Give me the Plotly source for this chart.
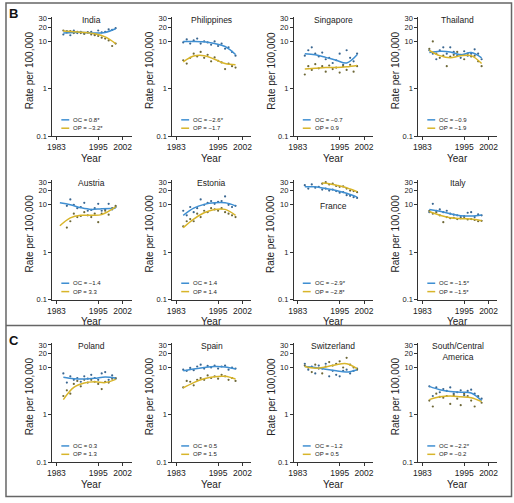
import plotly.graph_objects as go

W, H = 514, 503

# ---------------- data ----------------
countries = ["India", "Philippines", "Singapore", "Thailand",
             "Austria", "Estonia", "France", "Italy",
             "Poland", "Spain", "Switzerland", "South/Central America"]
titles = ["India", "Philippines", "Singapore", "Thailand",
          "Austria", "Estonia", "France", "Italy",
          "Poland", "Spain", "Switzerland", "South/Central<br>America"]
oc_labels = ["OC = 0.8*", "OC = \u22122.6*", "OC = \u22120.7", "OC = \u22120.9",
             "OC = \u22121.4", "OC = 1.4", "OC = \u22122.9*", "OC = \u22121.5*",
             "OC = 0.3", "OC = 0.5", "OC = \u22121.2", "OC = \u22122.2*"]
op_labels = ["OP = \u22123.2*", "OP = \u22121.7", "OP = 0.9", "OP = \u22121.9",
             "OP = 3.3", "OP = 1.4", "OP = \u22122.8*", "OP = \u22121.5*",
             "OP = 1.3", "OP = 1.5", "OP = 0.5", "OP = \u22120.2"]

yrs16 = list(range(1985, 2001))
yrs_austria = list(range(1986, 2001))
yrs_france_op = list(range(1990, 2001))

# observed rates (points)
oc_points = {
    "India":       [14, 16.5, 13.5, 17, 15, 16, 14.5, 15.5, 16, 14, 17, 15.5, 16, 18, 17.5, 19],
    "Philippines": [9.5, 11, 9, 10.5, 11.5, 9, 10, 9.5, 8.5, 10, 8, 9, 7, 7.5, 6, 5],
    "Singapore":   [5.0, 6.5, 7.5, 5.5, 4.8, 5.8, 4.2, 4.5, 3.5, 4.0, 5.5, 3.2, 6.5, 4.5, 3.8, 5.5],
    "Thailand":    [6.5, 5.5, 4.2, 6.5, 7.5, 5.5, 7.5, 6.0, 5.0, 4.5, 6.2, 5.0, 5.5, 6.8, 5.5, 4.2],
    "Austria":     [9.5, 13, 10, 8.5, 9, 11, 7.5, 7.8, 8.5, 10.5, 7.5, 8, 10.5, 8, 9.0],
    "Estonia":     [7.5, 6, 9, 7, 8.5, 13, 10, 11, 12, 10.5, 11.5, 12, 15, 10, 9, 9.5],
    "France":      [26, 22, 27, 23, 24, 21, 22, 20, 21, 19.5, 18, 18.5, 16, 15.5, 14.5, 14],
    "Italy":       [7, 10.5, 7.5, 8, 7, 7.5, 6.5, 6.2, 6.0, 5.5, 5.8, 6.8, 7.0, 5.5, 6.3, 6.0],
    "Poland":      [7.5, 4.8, 6.5, 5.5, 6.0, 5.0, 6.5, 5.8, 7.0, 6.0, 5.5, 7.5, 8.0, 5.5, 6.8, 5.8],
    "Spain":       [9.0, 8.5, 9.8, 8.8, 10.5, 11.5, 9.5, 10.8, 10, 11, 9.5, 10.5, 11, 9, 10, 9.5],
    "Switzerland": [12, 9, 10.5, 7.5, 11, 9.5, 12, 6.5, 8.5, 7, 6.5, 8.5, 9, 7.5, 8.5, 9.5],
    "South/Central America": [4.0, 2.5, 3.8, 3.0, 3.5, 3.2, 3.8, 2.8, 3.0, 3.3, 2.6, 3.2, 3.4, 2.8, 2.5, 2.2],
}
op_points = {
    "India":       [17, 15.5, 16.5, 15, 16, 15, 14.5, 15.5, 14, 13.5, 13, 12, 11.5, 10.5, 8, 9],
    "Philippines": [4, 3.4, 4.5, 5.5, 4.8, 6, 4.5, 5.2, 3.8, 4.6, 3.9, 3.6, 2.6, 3.4, 3.0, 2.8],
    "Singapore":   [2.0, 3.0, 2.5, 3.3, 2.7, 3.0, 2.3, 3.1, 2.6, 2.8, 2.2, 3.0, 2.5, 3.2, 2.3, 3.0],
    "Thailand":    [7.0, 10, 5.5, 4.5, 5.0, 3.0, 4.8, 5.2, 6.0, 5.2, 4.2, 5.5, 4.8, 5.0, 3.8, 3.0],
    "Austria":     [3.3, 4.5, 6.5, 5.5, 5.8, 7, 6, 5.5, 6.5, 4.3, 6.5, 7.5, 6.2, 8.5, 9.5],
    "Estonia":     [3.5, 4.5, 5, 4.5, 6.5, 5.5, 7.5, 7, 8.5, 8, 7.5, 8.5, 7, 6.5, 6, 5.5],
    "France":      [28, 30, 27, 28, 25, 24, 24.5, 22, 20, 19.5, 18.5],
    "Italy":       [7.5, 6.5, 7, 6, 4.3, 5.5, 5.2, 5.3, 5.0, 5.2, 5.5, 4.9, 5.0, 4.8, 4.5, 4.6],
    "Poland":      [2.5, 3.3, 2.8, 4.5, 5.2, 4.0, 5.5, 4.8, 5.5, 5.0, 4.5, 3.5, 5.0, 4.8, 5.8, 6.0],
    "Spain":       [3.8, 5.2, 5.0, 4.2, 5.5, 6.0, 5.5, 6.8, 6.0, 6.5, 5.8, 7.0, 6.5, 5.5, 6.0, 5.2],
    "Switzerland": [11, 10, 8, 11.5, 9.5, 7.5, 10.5, 13, 11, 12, 13.5, 10, 16, 11.5, 10, 9],
    "South/Central America": [2.0, 1.5, 2.8, 2.4, 2.3, 2.5, 1.7, 2.6, 2.2, 1.6, 2.8, 2.5, 2.0, 1.5, 2.4, 1.8],
}
point_years = {c: yrs16 for c in countries}
point_years["Austria"] = yrs_austria
op_point_years = dict(point_years)
op_point_years["France"] = yrs_france_op

# fitted trends (knots)
fit_years = [1985, 1988, 1991, 1994, 1997, 2000]
oc_fit = {
    "India":       [15, 15.5, 15.5, 15, 15.5, 18.5],
    "Philippines": [10, 10, 9.8, 9, 7.8, 5.3],
    "Singapore":   [5.5, 5.2, 4.6, 4.0, 3.5, 5.2],
    "Thailand":    [5.8, 6.2, 6.0, 5.2, 5.8, 4.5],
    "Austria":     [11, 10, 8.7, 8, 8.3, 8.5],
    "Estonia":     [6, 8.5, 10.2, 11, 11, 9.5],
    "France":      [24, 24, 22, 20, 17.5, 14.5],
    "Italy":       [8, 7.3, 6.5, 5.9, 5.8, 6.1],
    "Poland":      [6.2, 5.8, 5.7, 5.9, 6.3, 6.0],
    "Spain":       [8.5, 9.3, 10, 10.5, 10.3, 9.3],
    "Switzerland": [10.5, 10, 9.2, 8.5, 8, 9],
    "South/Central America": [4.0, 3.4, 3.1, 3.0, 2.9, 2.0],
}
op_fit = {
    "India":       [16.5, 16, 15.5, 14.5, 12.5, 9],
    "Philippines": [3.7, 4.9, 5.0, 4.2, 3.4, 3.2],
    "Singapore":   [2.6, 2.7, 2.8, 2.8, 2.9, 3.1],
    "Thailand":    [6.5, 5, 4.5, 5, 5, 3.4],
    "Austria":     [3.6, 5.3, 6, 6, 6.2, 9],
    "Estonia":     [3.3, 5, 6.8, 8, 8, 6],
    "France":      [29, 28, 26, 24, 21.5, 19],
    "Italy":       [7.2, 6, 5.3, 5.1, 5.0, 4.6],
    "Poland":      [2.1, 3.8, 4.7, 5.0, 4.8, 5.6],
    "Spain":       [3.7, 4.8, 5.8, 6.4, 6.5, 5.7],
    "Switzerland": [10.5, 9.7, 10.3, 11.5, 12, 9.5],
    "South/Central America": [2.1, 2.4, 2.5, 2.4, 2.3, 1.9],
}
fit_years_c = {c: fit_years for c in countries}
fit_years_c["Austria"] = [1984, 1987, 1990, 1993, 1996, 2000]
op_fit_years_c = dict(fit_years_c)
op_fit_years_c["France"] = [1990, 1992, 1994, 1996, 1998, 2000]

x_ticks = [1983, 1995, 2002]
y_ticks = [0.1, 1, 10, 20, 30]
y_ticklabels = ["0.1", "1", "10", "20", "30"]

# ---------------- style ----------------
FONT = "Arial, Liberation Sans, sans-serif"
BLUE = "#3f8fd2"
YELLOW = "#d8b52a"
BLUE_PT = "#3a6690"
YELLOW_PT = "#6e6838"
AX = "#333333"
TXT = "#222222"

col_left = [48, 169.3, 292.3, 418.3]
row_bottom = [136, 301.7, 466.7]
PW, PH = 80, 121
title_y = [0.975] * 12
title_y[6] = 0.785
title_y[11] = 0.93

fig = go.Figure()
layout = dict(
    width=W, height=H, margin=dict(l=0, r=0, t=0, b=0),
    paper_bgcolor="white", plot_bgcolor="white", showlegend=False,
    font=dict(family=FONT, color=TXT, size=9),
)
annotations = []
shapes = []

for i, c in enumerate(countries):
    n = i + 1
    r, k = divmod(i, 4)
    sfx = "" if n == 1 else str(n)
    xa, ya = "x" + sfx, "y" + sfx
    L = col_left[k]
    B = row_bottom[r]
    layout["xaxis" + sfx] = dict(
        domain=[L / W, (L + PW) / W], range=[1981.87, 2004.55],
        anchor=ya, showline=True, linecolor=AX, linewidth=1,
        ticks="outside", ticklen=3, tickcolor=AX, tickwidth=1,
        tickvals=x_ticks, showgrid=False, zeroline=False,
        tickfont=dict(size=8.5, family=FONT, color=TXT),
    )
    layout["yaxis" + sfx] = dict(
        domain=[1 - B / H, 1 - (B - PH) / H], type="log", range=[-1, 1.52],
        anchor=xa, showline=True, linecolor=AX, linewidth=1,
        ticks="outside", ticklen=3, tickcolor=AX, tickwidth=1,
        tickvals=y_ticks, ticktext=y_ticklabels, showgrid=False, zeroline=False,
        tickfont=dict(size=7.5, family=FONT, color=TXT),
    )
    # points
    fig.add_trace(go.Scatter(x=point_years[c], y=oc_points[c], mode="markers",
                             marker=dict(size=2.2, color=BLUE_PT), xaxis=xa, yaxis=ya))
    fig.add_trace(go.Scatter(x=op_point_years[c], y=op_points[c], mode="markers",
                             marker=dict(size=2.2, color=YELLOW_PT), xaxis=xa, yaxis=ya))
    # fitted trends
    fig.add_trace(go.Scatter(x=fit_years_c[c], y=oc_fit[c], mode="lines",
                             line=dict(color=BLUE, width=1.5, shape="spline", smoothing=1),
                             xaxis=xa, yaxis=ya))
    fig.add_trace(go.Scatter(x=op_fit_years_c[c], y=op_fit[c], mode="lines",
                             line=dict(color=YELLOW, width=1.5, shape="spline", smoothing=1),
                             xaxis=xa, yaxis=ya))
    xd, yd = xa + " domain", ya + " domain"
    # country title
    annotations.append(dict(text=titles[i], x=0.5, y=title_y[i], xref=xd, yref=yd,
                            xanchor="center", yanchor="middle", showarrow=False,
                            font=dict(size=8.5, family=FONT, color=TXT)))
    # axis titles
    annotations.append(dict(text="Rate per 100,000", x=-23 / PW, y=0.55, xref=xd, yref=yd,
                            xanchor="center", yanchor="middle", textangle=-90, showarrow=False,
                            font=dict(size=10, family=FONT, color=TXT)))
    annotations.append(dict(text="Year", x=0.5, y=-22.5 / PH, xref=xd, yref=yd,
                            xanchor="center", yanchor="middle", showarrow=False,
                            font=dict(size=10, family=FONT, color=TXT)))
    # in-plot legend
    for lab, col, yy in ((oc_labels[i], BLUE, 16.5 / PH), (op_labels[i], YELLOW, 8 / PH)):
        shapes.append(dict(type="line", xref=xd, yref=yd, x0=9 / PW, x1=17 / PW,
                           y0=yy, y1=yy, line=dict(color=col, width=1.5)))
        annotations.append(dict(text=lab, x=19 / PW, y=yy, xref=xd, yref=yd,
                                xanchor="left", yanchor="middle", showarrow=False,
                                font=dict(size=6, family=FONT, color=TXT)))

# panel letters
annotations.append(dict(text="<b>B</b>", x=9 / W, y=1 - 12 / H, xref="paper", yref="paper",
                        xanchor="center", yanchor="middle", showarrow=False,
                        font=dict(size=13, family="Arial", color="#111")))
annotations.append(dict(text="<b>C</b>", x=9 / W, y=1 - 343 / H, xref="paper", yref="paper",
                        xanchor="center", yanchor="middle", showarrow=False,
                        font=dict(size=13, family="Arial", color="#111")))
# outer frame and separator
shapes.append(dict(type="rect", xref="paper", yref="paper", x0=1 / W, x1=1 - 1.5 / W,
                   y0=1.5 / H, y1=1 - 1 / H, line=dict(color="#666", width=1.5)))
shapes.append(dict(type="line", xref="paper", yref="paper", x0=1 / W, x1=1 - 1.5 / W,
                   y0=1 - 328 / H, y1=1 - 328 / H, line=dict(color="#666", width=1.5)))

layout["annotations"] = annotations
layout["shapes"] = shapes
fig.update_layout(**layout)
fig.write_html("out.html", config={"displayModeBar": False},
               post_script="document.body.style.margin='0';document.body.style.padding='0';")
